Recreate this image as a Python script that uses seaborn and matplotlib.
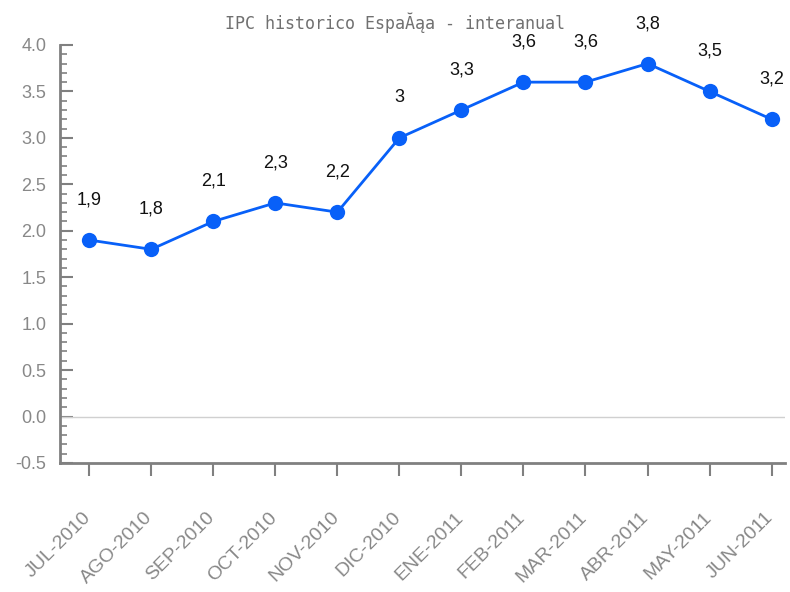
import pandas as pd
import matplotlib.pyplot as plt
import matplotlib.transforms as mtransforms
import seaborn as sns
from matplotlib.ticker import MultipleLocator

months = ["JUL-2010", "AGO-2010", "SEP-2010", "OCT-2010", "NOV-2010", "DIC-2010",
          "ENE-2011", "FEB-2011", "MAR-2011", "ABR-2011", "MAY-2011", "JUN-2011"]
ipc = [1.9, 1.8, 2.1, 2.3, 2.2, 3.0, 3.3, 3.6, 3.6, 3.8, 3.5, 3.2]

data = pd.DataFrame({"x": range(len(months)), "ipc": ipc})

sns.set_style('white')
plt.rcParams['font.family'] = ['Liberation Sans', 'DejaVu Sans']
fig = plt.figure(figsize=(7.9, 5.92), dpi=100)
ax = fig.add_axes([0.076, 0.218, 0.918, 0.706])

grey = '#808080'
blue = '#0860f8'
ax.axhline(0, color='#d0d0d0', lw=1, zorder=1)
sns.lineplot(data=data, x="x", y="ipc", ax=ax, color=blue, lw=2,
             marker='o', markersize=11, markeredgewidth=0, zorder=3)

for i, v in enumerate(ipc):
    s = ('%g' % v).replace('.', ',')
    ax.annotate(s, (i, v), xytext=(0, 40), textcoords='offset pixels',
                ha='center', va='center', fontsize=13, color='#111111')

ax.set_xlim(-0.47, 11.22)
ax.set_ylim(-0.5, 4.0)
ax.set_xticks(range(len(months)))
ax.set_xticklabels(months, rotation=45, ha='right', rotation_mode='anchor')
ax.yaxis.set_major_locator(MultipleLocator(0.5))
ax.yaxis.set_minor_locator(MultipleLocator(0.1))
ax.yaxis.set_major_formatter(lambda v, p: '%.1f' % v)
ax.tick_params(axis='y', which='major', direction='in', length=9, width=1.5,
               colors=grey, labelsize=13, pad=10, left=True)
ax.tick_params(axis='y', which='minor', direction='in', length=5, width=1.2,
               colors=grey, left=True)
ax.tick_params(axis='x', direction='out', length=9, width=1.5, colors=grey,
               labelsize=14, pad=24, bottom=True)
shift = mtransforms.ScaledTranslation(-7 / 100, 0, fig.dpi_scale_trans)
for lab in ax.get_xticklabels():
    lab.set_transform(lab.get_transform() + shift)
for lab in ax.get_yticklabels() + ax.get_xticklabels():
    lab.set_color('#888888')
for sp in ['top', 'right']:
    ax.spines[sp].set_visible(False)
for sp in ['left', 'bottom']:
    ax.spines[sp].set_color(grey)
    ax.spines[sp].set_linewidth(2)
ax.set_xlabel("")
ax.set_ylabel("")
fig.text(0.5, 0.962, "IPC historico EspaĂąa - interanual", ha='center', va='center',
         fontsize=12, color='#707070', family='DejaVu Sans Mono')
fig.savefig("out.png", dpi=100)
